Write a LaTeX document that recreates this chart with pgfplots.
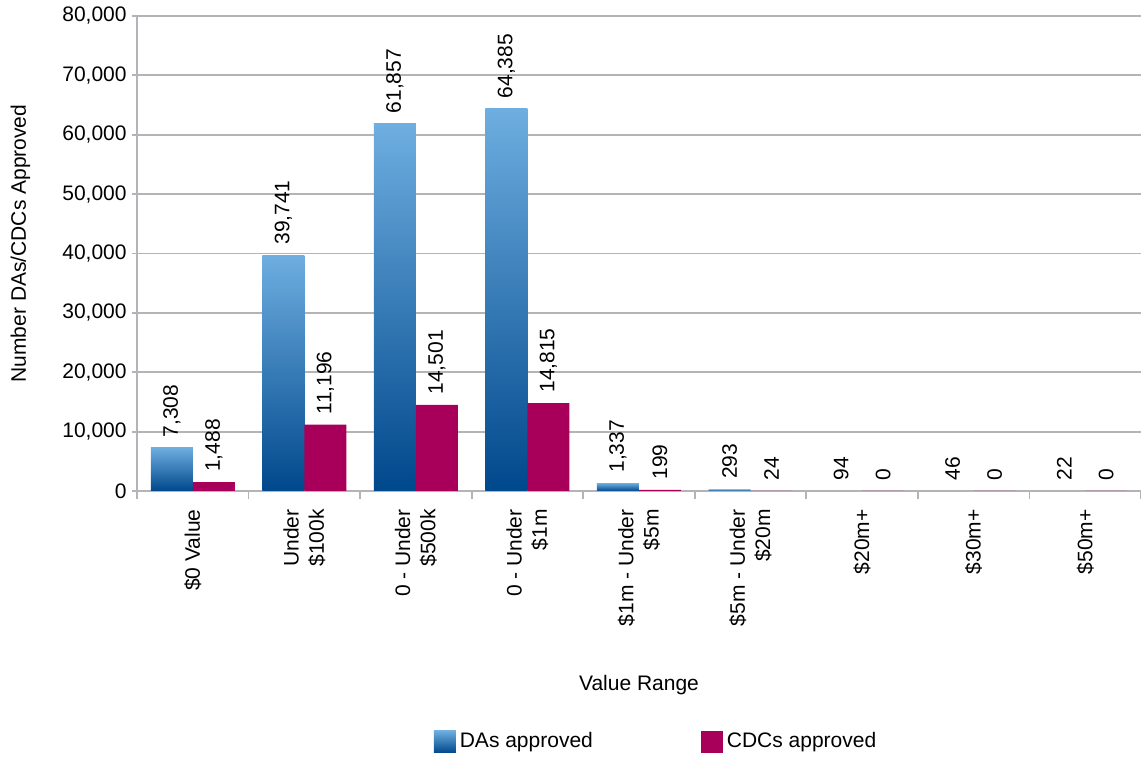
\documentclass[border=0pt]{standalone}
\usepackage{pgfplots}
\pgfplotsset{compat=1.18}
\usepackage{fontspec}
\setmainfont{Liberation Sans}
\setsansfont{Liberation Sans}

\definecolor{dalight}{HTML}{6EAEE0}
\definecolor{dadark}{HTML}{00488C}
\definecolor{cdc}{HTML}{A8005A}
\definecolor{gridgray}{HTML}{B4B4B8}

% each DA bar is its own plot so that every bar gets its own gradient
\pgfplotsset{
    dabar/.style={draw=none, top color=dalight, bottom color=dadark, bar shift=-10.5pt},
}

\begin{document}
\fontsize{10.5}{12.6}\selectfont
\begin{tikzpicture}
    % fixed page: 1141x758 px at 2 px per pt
    \path[use as bounding box] (-68.5pt,-133.5pt) rectangle (502pt,245.5pt);
    \begin{axis}[
        scale only axis,
        width=502pt, height=237.5pt,
        at={(0,0)}, anchor=south west,
        ybar, bar width=21pt,
        xmin=-0.5, xmax=8.5,
        ymin=0, ymax=80000,
        ytick={0,10000,...,80000},
        scaled y ticks=false,
        /pgf/number format/assume math mode=true,
        /pgf/number format/1000 sep={,},
        axis lines*=left,
        axis line style={gridgray, line width=0.9pt},
        ymajorgrids,
        major grid style={gridgray, line width=0.9pt},
        tick align=outside,
        major tick length=2.5pt,
        y tick style={gridgray, line width=0.9pt},
        major x tick style={draw=none},
        minor x tick style={gridgray, line width=0.9pt},
        minor tick length=4pt,
        xtick={0,...,8},
        minor xtick={-0.5,0.5,...,8.5},
        xticklabels={
            {\$0 Value},
            {Under\\\$100k},
            {0 - Under\\\$500k},
            {0 - Under\\\$1m},
            {\$1m - Under\\\$5m},
            {\$5m - Under\\\$20m},
            {\$20m+},
            {\$30m+},
            {\$50m+}},
        xticklabel style={rotate=90, anchor=east, align=right},
        xticklabel shift=3pt,
        yticklabel style={xshift=1pt},
        ylabel={Number DAs/CDCs Approved},
        ylabel style={at={(axis description cs:-0.116,0.521)}, anchor=center, rotate=0},
        xlabel={Value Range},
        xlabel style={at={(axis description cs:0.5,-0.408)}, anchor=center},
        nodes near coords,
        every node near coord/.append style={black, rotate=90, anchor=west, inner xsep=5pt},
        clip=false,
        legend style={at={(axis description cs:0.518,-0.528)}, anchor=center,
            draw=none, legend columns=2, font=\fontsize{10.5}{12.6}\selectfont,
            nodes={inner xsep=2pt},
            /tikz/every even column/.append style={column sep=52pt}},
        legend image code/.code={\fill[#1] (0pt,-5.5pt) rectangle (11pt,5.5pt);},
        ]
        % DAs approved
        \addplot[dabar] coordinates {(0,7308)};
        \addlegendentry{DAs approved}
        \addplot[dabar, forget plot] coordinates {(1,39741)};
        \addplot[dabar, forget plot] coordinates {(2,61857)};
        \addplot[dabar, forget plot] coordinates {(3,64385)};
        \addplot[dabar, forget plot] coordinates {(4,1337)};
        \addplot[dabar, forget plot] coordinates {(5,293)};
        \addplot[dabar, forget plot] coordinates {(6,94)};
        \addplot[dabar, forget plot] coordinates {(7,46)};
        \addplot[dabar, forget plot] coordinates {(8,22)};
        % CDCs approved
        \addplot[draw=none, fill=cdc, bar shift=10.5pt] coordinates {
            (0,1488) (1,11196) (2,14501) (3,14815) (4,199)
            (5,24) (6,0) (7,0) (8,0)
        };
        \addlegendentry{CDCs approved}
    \end{axis}
\end{tikzpicture}
\end{document}
